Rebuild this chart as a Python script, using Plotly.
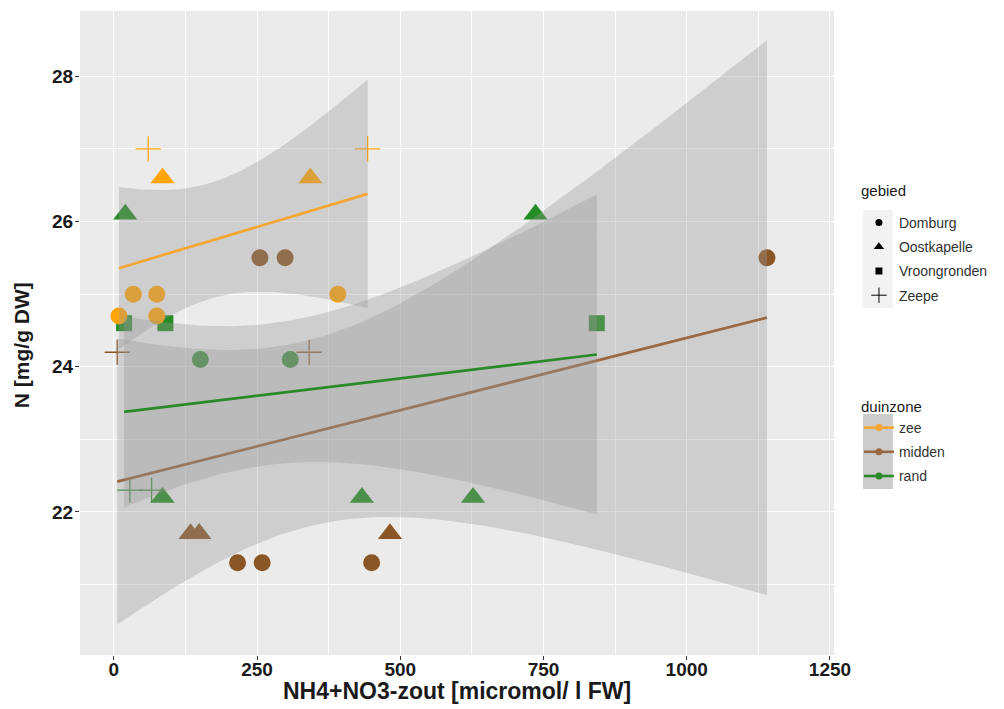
import numpy as np
import plotly.graph_objects as go

# --- data -------------------------------------------------------------
zone = ["zee"] * 9 + ["midden"] * 11 + ["rand"] * 13
area = [
    # zee
    "Zeepe", "Zeepe", "Oostkapelle", "Oostkapelle",
    "Domburg", "Domburg", "Domburg", "Domburg", "Domburg",
    # midden
    "Domburg", "Domburg", "Domburg", "Domburg", "Domburg", "Domburg",
    "Oostkapelle", "Oostkapelle", "Oostkapelle", "Zeepe", "Zeepe",
    # rand
    "Oostkapelle", "Oostkapelle", "Oostkapelle", "Oostkapelle", "Oostkapelle",
    "Oostkapelle",
    "Vroongronden", "Vroongronden", "Vroongronden",
    "Domburg", "Domburg", "Zeepe", "Zeepe",
]
nh4no3 = [
    60, 443, 85, 343, 34, 75, 391, 9, 75,
    255, 299, 1140, 216, 259, 450, 134, 149, 482, 6, 341,
    20, 736, 85, 433, 627, 149, 18, 90, 843, 151, 308, 28, 66,
]
n_content = [
    27.0, 27.0, 26.6, 26.6, 25.0, 25.0, 25.0, 24.7, 24.7,
    25.5, 25.5, 25.5, 21.3, 21.3, 21.3, 21.7, 21.7, 21.7, 24.2, 24.2,
    26.1, 26.1, 22.2, 22.2, 22.2, 21.7, 24.6, 24.6, 24.6, 24.1, 24.1, 22.3, 22.3,
]

zones = ["zee", "midden", "rand"]
areas = ["Domburg", "Oostkapelle", "Vroongronden", "Zeepe"]

x_ticks = [0, 250, 500, 750, 1000, 1250]
y_ticks = [22, 24, 26, 28]

# --- styling ----------------------------------------------------------
point_colors = {"zee": "#FFA50A", "midden": "#8B5626", "rand": "#248C24"}
line_colors = {"zee": "#F6A632", "midden": "#9A6843", "rand": "#2A8A2A"}
symbols = {"Domburg": "circle", "Oostkapelle": "triangle-up",
           "Vroongronden": "square", "Zeepe": "cross-thin"}
sizes = {"Domburg": 17, "Oostkapelle": 21, "Vroongronden": 16, "Zeepe": 18}
ribbon_fill = "rgba(153,153,153,0.35)"

FONT = "Liberation Sans, Arial, sans-serif"

# --- linear model with 95% confidence band ------------------------------
try:
    from scipy.stats import t as t_dist

    def t_crit(df):
        return float(t_dist.ppf(0.975, df))
except Exception:
    T975 = {5: 2.570582, 6: 2.446912, 7: 2.364624, 8: 2.306004,
            9: 2.262157, 10: 2.228139, 11: 2.200985, 12: 2.178813}

    def t_crit(df):
        return T975[df]


def lm_band(x, y, n_out=80):
    x = np.asarray(x, float)
    y = np.asarray(y, float)
    n = len(x)
    X = np.column_stack([np.ones(n), x])
    beta, *_ = np.linalg.lstsq(X, y, rcond=None)
    resid = y - X @ beta
    df = n - 2
    s2 = resid @ resid / df
    xtx_inv = np.linalg.inv(X.T @ X)
    xs = np.linspace(x.min(), x.max(), n_out)
    Xs = np.column_stack([np.ones(n_out), xs])
    fit = Xs @ beta
    se = np.sqrt(s2 * np.einsum("ij,jk,ik->i", Xs, xtx_inv, Xs))
    tq = t_crit(df)
    return xs, fit, fit - tq * se, fit + tq * se


fig = go.Figure()

# points (rand first, so the other zones are drawn over it)
for z in ["rand", "midden", "zee"]:
    for a in areas:
        idx = [i for i in range(len(zone)) if zone[i] == z and area[i] == a]
        if not idx:
            continue
        xs = [nh4no3[i] for i in idx]
        ys = [n_content[i] for i in idx]
        if a == "Zeepe":
            marker = dict(symbol=symbols[a], size=sizes[a], color=point_colors[z],
                          line=dict(color=point_colors[z], width=1.3))
        else:
            marker = dict(symbol=symbols[a], size=sizes[a], color=point_colors[z],
                          line=dict(width=0))
        fig.add_trace(go.Scatter(x=xs, y=ys, mode="markers", marker=marker,
                                 showlegend=False, hoverinfo="skip"))

# smoothers: ribbon then line, per duinzone
for z in zones:
    idx = [i for i in range(len(zone)) if zone[i] == z]
    xs, fit, lo, hi = lm_band([nh4no3[i] for i in idx], [n_content[i] for i in idx])
    fig.add_trace(go.Scatter(
        x=np.concatenate([xs, xs[::-1]]), y=np.concatenate([hi, lo[::-1]]),
        mode="lines", fill="toself", fillcolor=ribbon_fill,
        line=dict(width=0), showlegend=False, hoverinfo="skip"))
    fig.add_trace(go.Scatter(x=xs, y=fit, mode="lines",
                             line=dict(color=line_colors[z], width=2.7),
                             showlegend=False, hoverinfo="skip"))

# legend: gebied (shape)
for a in areas:
    if a == "Zeepe":
        m = dict(symbol=symbols[a], size=11, color="black", line=dict(color="black", width=1))
    else:
        m = dict(symbol=symbols[a], size=7 if a != "Oostkapelle" else 9,
                 color="black", line=dict(width=0))
    fig.add_trace(go.Scatter(x=[None], y=[None], mode="markers", marker=m, name=a,
                             legend="legend", legendgroup="g" + a, showlegend=True))

# legend: duinzone (colour)
for z in zones:
    fig.add_trace(go.Scatter(x=[None], y=[None], mode="lines+markers",
                             line=dict(color=line_colors[z], width=2.6),
                             marker=dict(color=line_colors[z], size=7),
                             name=z, legend="legend2", legendgroup="d" + z, showlegend=True))

# --- layout -----------------------------------------------------------
W, H = 1004, 709
ML, MR, MT, MB = 80, 168, 11, 54
pw, ph = W - ML - MR, H - MT - MB


def px_x(p):
    return (p - ML) / pw


def px_y(p):
    return (H - MB - p) / ph


shapes = [
    dict(type="rect", xref="paper", yref="paper", layer="below",
         x0=px_x(865), x1=px_x(895), y0=px_y(308), y1=px_y(210),
         fillcolor="#F2F2F2", line=dict(width=0)),
    dict(type="rect", xref="paper", yref="paper", layer="below",
         x0=px_x(865), x1=px_x(895), y0=px_y(489), y1=px_y(414),
         fillcolor="#CCCCCC", line=dict(width=0)),
]

annotations = [
    dict(text="gebied", xref="paper", yref="paper", x=px_x(861), y=px_y(190),
         xanchor="left", yanchor="middle", showarrow=False,
         font=dict(family=FONT, size=15, color="#1a1a1a")),
    dict(text="duinzone", xref="paper", yref="paper", x=px_x(861), y=px_y(407),
         xanchor="left", yanchor="middle", showarrow=False,
         font=dict(family=FONT, size=15, color="#1a1a1a")),
    # axis titles
    dict(text="<b>NH4+NO3-zout [micromol/ l FW]</b>", xref="paper", yref="paper",
         x=0.5, y=px_y(691), xanchor="center", yanchor="middle", showarrow=False,
         font=dict(family=FONT, size=23, color="#1a1a1a")),
    dict(text="<b>N [mg/g DW]</b>", xref="paper", yref="paper", textangle=-90,
         x=px_x(22), y=px_y(345), xanchor="center", yanchor="middle", showarrow=False,
         font=dict(family=FONT, size=21, color="#1a1a1a")),
]

axis_common = dict(
    showline=False, zeroline=False,
    gridcolor="white", gridwidth=1.2,
    ticks="outside", ticklen=4, tickwidth=1, tickcolor="#333333",
    tickfont=dict(family=FONT, size=19, color="#1a1a1a", weight="bold"),
)

fig.update_layout(
    width=W, height=H,
    margin=dict(l=ML, r=MR, t=MT, b=MB),
    paper_bgcolor="white", plot_bgcolor="#EBEBEB",
    font=dict(family=FONT, color="#333333"),
    shapes=shapes,
    annotations=annotations,
    xaxis=dict(
        range=[-59, 1257], tickvals=x_ticks, ticktext=[str(v) for v in x_ticks],
        minor=dict(tickvals=[125, 375, 625, 875, 1125], showgrid=True,
                   gridcolor="white", gridwidth=0.6, ticks=""),
        ticklabelstandoff=-7,
        **axis_common,
    ),
    yaxis=dict(
        range=[20.03, 28.9], tickvals=y_ticks, ticktext=[str(v) for v in y_ticks],
        minor=dict(tickvals=[21, 23, 25, 27], showgrid=True,
                   gridcolor="white", gridwidth=0.6, ticks=""),
        ticklabelstandoff=-2,
        **axis_common,
    ),
    legend=dict(
        x=px_x(861), y=px_y(207), xanchor="left", yanchor="top",
        bgcolor="rgba(0,0,0,0)", traceorder="grouped", tracegroupgap=3,
        font=dict(family=FONT, size=14, color="#333333"), itemwidth=30,
    ),
    legend2=dict(
        x=px_x(861), y=px_y(412), xanchor="left", yanchor="top",
        bgcolor="rgba(0,0,0,0)", traceorder="grouped", tracegroupgap=3,
        font=dict(family=FONT, size=14, color="#333333"), itemwidth=30,
    ),
)

fig.write_html("out.html")
